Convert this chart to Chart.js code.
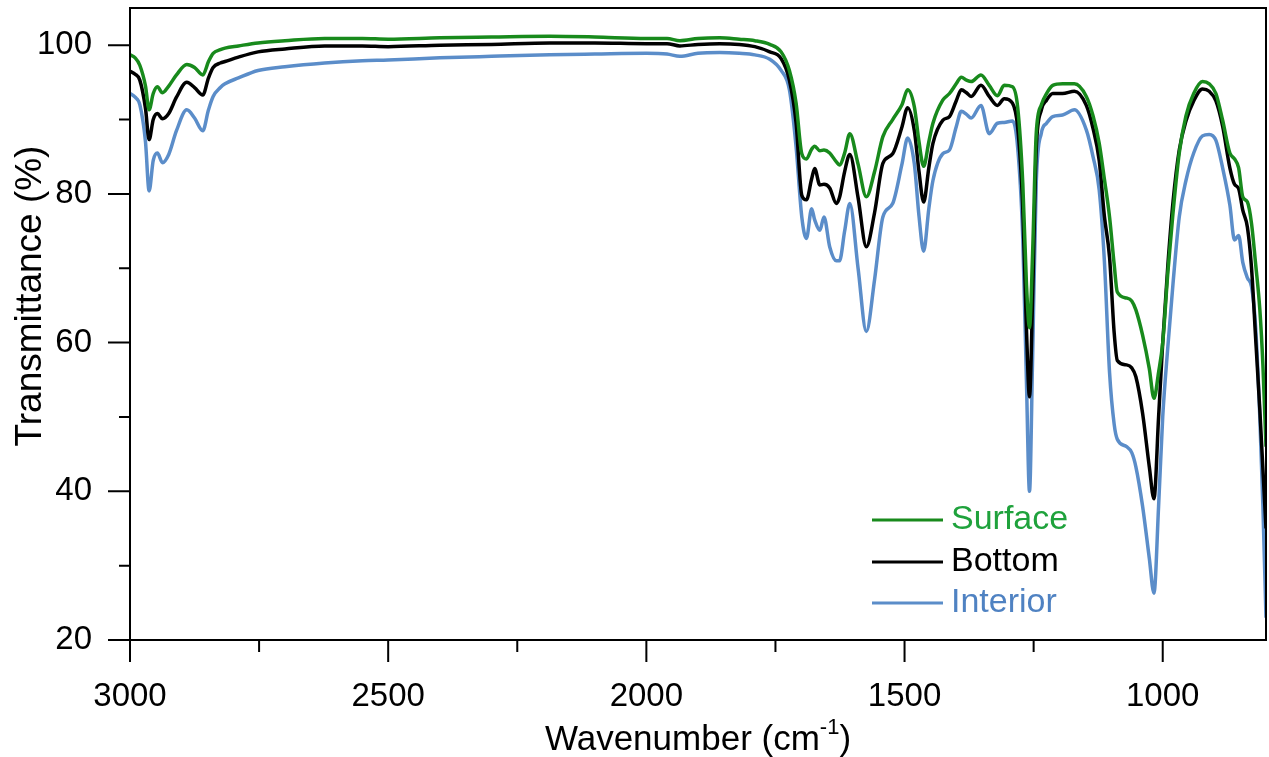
<!DOCTYPE html>
<html>
<head>
<meta charset="utf-8">
<script src="https://cdn.jsdelivr.net/npm/chart.js@4.4.1/dist/chart.umd.min.js"></script>
<style>
  html, body { margin: 0; padding: 0; background: #fff; }
  #wrap { width: 1269px; height: 757px; position: relative; }
</style>
</head>
<body>
<div id="wrap"><canvas id="ftir"></canvas></div>
<script>
  'use strict';

  // wavenumbers (cm-1)
  const wavenumbers = [
    3000, 2990, 2981, 2970, 2963, 2955, 2947, 2937, 2925, 2910, 2890, 2875, 2859, 2848, 2839, 2825, 2816, 2790, 2752, 2700, 2623, 2550, 2500, 2400, 2300, 2187, 2100, 2000, 1960, 1935, 1900, 1858, 1820, 1790,
    1761, 1739, 1723, 1710, 1699, 1690, 1680, 1674, 1664, 1656, 1645, 1632, 1626, 1616, 1606, 1590, 1574, 1558, 1542, 1523, 1505, 1494, 1481, 1472, 1463, 1453, 1445, 1426,
    1413, 1400, 1390, 1380, 1371, 1352, 1336, 1320, 1307, 1291, 1281, 1271, 1264, 1258, 1252, 1245, 1235, 1225, 1213, 1194, 1171, 1148, 1135,
    1123, 1113, 1103, 1094, 1088, 1070, 1060, 1052, 1039, 1026, 1017, 1008, 1000, 990, 980, 968, 955, 940, 923, 910, 897, 884, 870, 861, 853, 845, 836, 828, 820, 812, 806, 800
  ];

  const surface = [
    98.7, 98.3, 97.3, 94.5, 91.3, 93.5, 94.4, 93.6, 94.5, 96.0, 97.4, 97.0, 96.0, 97.8, 98.9, 99.4, 99.6, 99.9, 100.3, 100.6, 100.9, 100.9, 100.8, 101.0, 101.1, 101.2, 101.1, 100.9, 100.9, 100.6, 100.9, 101.0, 100.8, 100.6,
    100.1, 99.1, 96.6, 92.2, 85.4, 84.7, 86.0, 86.4, 85.8, 85.9, 85.5, 84.3, 83.9, 85.5, 88.1, 84.0, 79.6, 83.0, 87.7, 90.0, 92.0, 94.0, 91.7, 87.0, 83.7, 87.0, 89.5, 92.6,
    93.5, 94.8, 95.7, 95.3, 95.1, 96.0, 94.6, 93.2, 94.6, 94.4, 91.7, 81.4, 68.0, 62.0, 72.0, 88.1, 92.0, 93.5, 94.6, 94.8, 94.8, 93.1, 90.5,
    86.8, 82.0, 76.9, 70.5, 66.8, 66.0, 65.6, 64.4, 61.0, 56.5, 52.5, 56.0, 60.0, 69.5, 77.5, 85.5, 90.5, 93.5, 95.1, 94.8, 93.5, 89.9, 85.5, 84.7, 83.5, 79.6, 78.9, 76.0, 70.5, 64.5, 57.0, 46.0
  ];

  const bottom = [
    96.5, 96.1, 95.3, 91.5, 87.3, 90.0, 90.8, 90.1, 90.8, 93.0, 95.0, 94.3, 93.3, 95.6, 97.0, 97.6, 97.8, 98.4, 99.1, 99.5, 99.9, 99.9, 99.8, 100.0, 100.1, 100.3, 100.3, 100.2, 100.2, 99.9, 100.1, 100.2, 100.1, 99.8,
    99.1, 98.2, 95.3, 89.5, 79.8, 79.2, 82.0, 83.4, 81.2, 81.3, 80.8, 78.7, 79.5, 83.0, 85.3, 79.5, 72.9, 77.5, 84.1, 85.4, 89.0, 91.6, 88.5, 83.0, 78.9, 83.5, 86.8, 89.9,
    90.4, 92.5, 94.0, 93.6, 93.1, 94.6, 93.1, 91.9, 92.8, 92.2, 89.0, 78.0, 62.0, 52.7, 66.0, 85.9, 91.3, 92.6, 93.5, 93.5, 93.8, 91.9, 88.8,
    84.5, 77.0, 71.5, 61.3, 57.6, 57.0, 56.6, 55.4, 50.5, 43.3, 39.0, 50.0, 60.0, 70.5, 79.0, 85.9, 89.8, 92.5, 94.1, 93.8, 92.5, 89.1, 83.5, 81.3, 80.7, 77.8, 75.5, 70.0, 60.5, 51.0, 43.0, 35.0
  ];

  const interior = [
    93.5, 93.0, 92.0, 87.0, 80.4, 84.5, 85.5, 84.2, 85.3, 88.5, 91.3, 90.2, 88.5, 91.3, 93.1, 94.3, 94.8, 95.6, 96.6, 97.1, 97.6, 97.9, 98.0, 98.3, 98.5, 98.7, 98.8, 98.9, 98.8, 98.5, 98.9, 99.0, 98.9, 98.7,
    98.1, 96.6, 94.0, 86.3, 76.9, 74.0, 78.0, 76.5, 75.1, 76.9, 72.9, 71.0, 71.0, 75.0, 78.7, 70.0, 61.5, 68.5, 76.9, 78.7, 84.0, 87.5, 84.0, 77.0, 72.3, 78.0, 81.8, 85.4,
    85.9, 89.0, 91.1, 90.7, 90.2, 91.9, 88.1, 89.5, 89.6, 89.8, 86.3, 74.0, 55.0, 40.0, 58.0, 81.4, 88.2, 89.5, 90.4, 90.6, 91.3, 88.6, 85.0,
    80.5, 71.0, 56.0, 49.0, 47.0, 46.0, 45.2, 43.3, 38.0, 31.0, 26.3, 38.0, 50.0, 59.5, 68.0, 76.9, 81.8, 85.5, 87.8, 88.0, 87.2, 83.5, 78.5, 73.8, 74.4, 70.8, 68.7, 67.5, 62.0, 50.0, 38.0, 23.0
  ];

  const xTicks = [3000, 2500, 2000, 1500, 1000];
  const xMinorTicks = [2750, 2250, 1750, 1250];
  const yTicks = [20, 40, 60, 80, 100];
  const yMinorTicks = [30, 50, 70, 90];

  const seriesNames = ['Surface', 'Bottom', 'Interior'];
  const lineColors = ['#188a1c', '#000000', '#5b8dc9'];
  const textColors = ['#1fa23c', '#000000', '#4f82c2'];

  const FONT = '"Liberation Sans", Arial, sans-serif';

  function toPoints(values) {
    return wavenumbers.map((w, i) => ({ x: w, y: values[i] }));
  }

  // frame, outward ticks, axis titles and the legend
  const decorations = {
    id: 'decorations',
    afterDraw(chart) {
      const ctx = chart.ctx;
      const area = chart.chartArea;
      const xs = chart.scales.x;
      const ys = chart.scales.y;
      ctx.save();
      ctx.strokeStyle = '#000';
      ctx.lineWidth = 2;
      ctx.strokeRect(area.left, area.top, area.right - area.left, area.bottom - area.top);

      ctx.beginPath();
      xTicks.forEach(v => { const p = xs.getPixelForValue(v); ctx.moveTo(p, area.bottom); ctx.lineTo(p, area.bottom + 22); });
      xMinorTicks.forEach(v => { const p = xs.getPixelForValue(v); ctx.moveTo(p, area.bottom); ctx.lineTo(p, area.bottom + 12); });
      yTicks.forEach(v => { const p = ys.getPixelForValue(v); ctx.moveTo(area.left, p); ctx.lineTo(area.left - 22, p); });
      yMinorTicks.forEach(v => { const p = ys.getPixelForValue(v); ctx.moveTo(area.left, p); ctx.lineTo(area.left - 11, p); });
      ctx.stroke();

      // x title with superscript
      ctx.fillStyle = '#000';
      ctx.textBaseline = 'alphabetic';
      const a = 'Wavenumber (cm';
      const b = ')';
      ctx.font = '22px ' + FONT;
      const supW = ctx.measureText('-1').width;
      ctx.font = '35px ' + FONT;
      const total = ctx.measureText(a).width + supW + ctx.measureText(b).width;
      let tx = (area.left + area.right) / 2 - total / 2;
      const base = 750;
      ctx.fillText(a, tx, base);
      tx += ctx.measureText(a).width;
      ctx.font = '22px ' + FONT;
      ctx.fillText('-1', tx, base - 16);
      tx += supW;
      ctx.font = '35px ' + FONT;
      ctx.fillText(b, tx, base);

      // y title
      ctx.save();
      ctx.translate(41, 296);
      ctx.rotate(-Math.PI / 2);
      ctx.textAlign = 'center';
      ctx.font = '37px ' + FONT;
      ctx.fillText('Transmittance (%)', 0, 0);
      ctx.restore();

      // legend
      const rows = [520, 562, 603];
      ctx.lineWidth = 3;
      ctx.font = '34px ' + FONT;
      ctx.textBaseline = 'middle';
      ctx.textAlign = 'left';
      seriesNames.forEach((name, i) => {
        ctx.strokeStyle = lineColors[i];
        ctx.beginPath();
        ctx.moveTo(872, rows[i]);
        ctx.lineTo(943, rows[i]);
        ctx.stroke();
        ctx.fillStyle = textColors[i];
        ctx.fillText(name, 951, rows[i]);
      });
      ctx.restore();
    }
  };

  const datasets = [surface, bottom, interior].map((vals, i) => ({
    label: seriesNames[i],
    data: toPoints(vals),
    borderColor: lineColors[i],
    borderWidth: 3.5,
    pointRadius: 0,
    fill: false,
    cubicInterpolationMode: 'monotone'
  }));

  // invisible tick marks push the labels away from the axis without adding padding at the ends
  const hiddenTicks = (len) => ({
    display: true,
    drawOnChartArea: false,
    drawTicks: true,
    tickLength: len,
    tickColor: 'rgba(0,0,0,0)'
  });

  new Chart(document.getElementById('ftir'), {
    type: 'line',
    data: { datasets: datasets },
    options: {
      responsive: true,
      maintainAspectRatio: false,
      animation: false,
      layout: { padding: { top: 8, right: 3, left: 0, bottom: 0 } },
      plugins: { legend: { display: false }, tooltip: { enabled: false } },
      scales: {
        x: {
          type: 'linear',
          reverse: true,
          min: 800,
          max: 3000,
          afterFit(scale) { scale.height = 117; scale.paddingLeft = 0; scale.paddingRight = 0; },
          afterBuildTicks(scale) { scale.ticks = xTicks.map(v => ({ value: v })); },
          grid: hiddenTicks(37),
          border: { display: false },
          ticks: { padding: 0, color: '#000', maxRotation: 0, autoSkip: false, font: { family: FONT, size: 33 }, callback: v => String(v) }
        },
        y: {
          min: 20,
          max: 105,
          afterFit(scale) { scale.width = 130; scale.paddingTop = 0; scale.paddingBottom = 0; },
          afterBuildTicks(scale) { scale.ticks = yTicks.map(v => ({ value: v })); },
          grid: hiddenTicks(38),
          border: { display: false },
          ticks: { padding: 0, color: '#000', font: { family: FONT, size: 33 }, callback: v => String(v) }
        }
      }
    },
    plugins: [decorations]
  });
</script>
</body>
</html>
